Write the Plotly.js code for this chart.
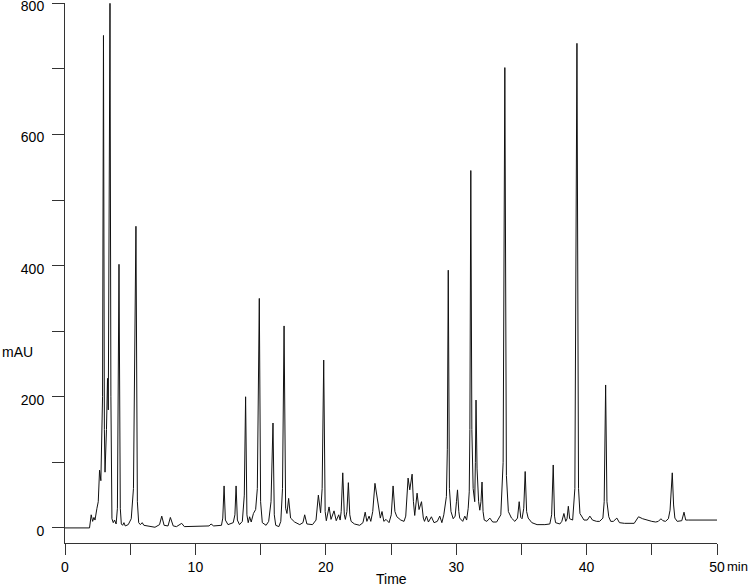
<!DOCTYPE html>
<html>
<head>
<meta charset="utf-8">
<script src="https://cdn.plot.ly/plotly-3.0.1.min.js"></script>
<style>html,body{margin:0;padding:0;background:#fff;}#chart{width:750px;height:586px;}</style>
</head>
<body>
<div id="chart"></div>
<script>
// Retention time (min) and absorbance (mAU)
const timeMin = [
  0, 1.88, 2.01, 2.12, 2.22, 2.30, 2.45, 2.55, 2.65, 2.75, 2.88, 2.95, 3.02, 3.07, 3.18, 3.26, 3.32, 3.40, 3.45, 3.52,
  3.60, 3.70, 3.80, 3.92, 4.02, 4.14, 4.24, 4.32, 4.42, 4.52, 4.62, 4.85, 5.08, 5.25, 5.44, 5.55, 5.65, 5.78, 5.92, 6.05,
  6.40, 6.90, 7.25, 7.42, 7.60, 7.90, 8.08, 8.30, 8.55, 8.95, 9.15, 10.5, 11.05, 11.2, 11.4, 12.0, 12.1, 12.2, 12.3, 12.5,
  12.9, 13.03, 13.12, 13.22, 13.38, 13.6, 13.75, 13.85, 13.95, 14.05, 14.16, 14.28, 14.45, 14.62, 14.75, 14.90, 15.00, 15.13, 15.42, 15.62,
  15.80, 15.95, 16.05, 16.16, 16.40, 16.55, 16.68, 16.80, 16.92, 17.02, 17.15, 17.30, 17.61, 18.0, 18.25, 18.38, 18.55, 18.98, 19.25, 19.43,
  19.60, 19.72, 19.84, 19.95, 20.04, 20.25, 20.40, 20.63, 20.80, 20.99, 21.10, 21.18, 21.30, 21.42, 21.50, 21.62, 21.73, 21.84, 21.94, 22.2,
  22.6, 22.85, 23.02, 23.15, 23.32, 23.45, 23.6, 23.77, 23.9, 24.06, 24.18, 24.31, 24.45, 24.62, 24.85, 25.02, 25.16, 25.30, 25.45, 25.75,
  26.0, 26.13, 26.31, 26.44, 26.62, 26.72, 26.82, 27.0, 27.15, 27.34, 27.48, 27.57, 27.72, 27.87, 28.1, 28.3, 28.55, 28.74, 28.9, 29.05,
  29.13, 29.25, 29.32, 29.39, 29.48, 29.6, 29.77, 29.92, 30.02, 30.1, 30.2, 30.27, 30.5, 30.66, 30.8, 30.92, 31.0, 31.05, 31.12, 31.2,
  31.3, 31.42, 31.47, 31.52, 31.6, 31.72, 31.81, 31.9, 31.98, 32.06, 32.15, 32.35, 32.58, 32.8, 33.1, 33.42, 33.6, 33.73, 33.85, 34.0,
  34.24, 34.5, 34.7, 34.83, 34.95, 35.05, 35.18, 35.29, 35.4, 35.52, 35.8, 36.2, 36.8, 37.18, 37.32, 37.44, 37.54, 37.62, 37.95, 38.1,
  38.26, 38.4, 38.5, 38.6, 38.7, 38.93, 39.1, 39.26, 39.38, 39.49, 39.8, 40.05, 40.25, 40.45, 40.77, 41.0, 41.25, 41.35, 41.46, 41.56,
  41.7, 41.85, 42.05, 42.32, 42.52, 42.9, 43.65, 43.85, 43.98, 44.3, 44.6, 45.0, 45.3, 45.5, 45.7, 45.85, 46.05, 46.27, 46.4, 46.57,
  46.67, 46.77, 46.95, 47.3, 47.47, 47.6, 47.8, 50.0
];
const absorbance = [
  0, 0, 20, 10, 16, 12, 30, 40, 88, 72, 200, 751, 150, 85, 150, 228, 180, 500, 800, 200,
  14, 8, 12, 6, 30, 402, 30, 6, 4, 8, 3, 5, 14, 60, 460, 40, 8, 5, 8, 4,
  3, 1, 5, 18, 4, 3, 16, 3, 2, 7, 2, 2, 3, 6, 3, 4, 15, 64, 12, 5,
  8, 20, 64, 12, 5, 10, 50, 200, 20, 8, 17, 9, 22, 28, 60, 350, 40, 8, 4, 10,
  40, 160, 20, 4, 2, 10, 60, 308, 30, 22, 45, 15, 9, 5, 8, 20, 6, 5, 12, 50,
  23, 60, 256, 25, 11, 32, 13, 26, 11, 20, 12, 25, 84, 20, 13, 25, 69, 20, 10, 6,
  4, 8, 24, 10, 18, 10, 25, 68, 50, 25, 15, 25, 10, 13, 8, 20, 64, 25, 17, 12,
  10, 18, 76, 58, 82, 40, 19, 53, 28, 40, 15, 10, 18, 9, 17, 8, 10, 18, 8, 20,
  32, 48, 120, 393, 60, 25, 14, 18, 40, 58, 25, 15, 10, 18, 12, 30, 55, 150, 545, 150,
  60, 40, 100, 195, 90, 40, 27, 40, 70, 25, 12, 10, 15, 9, 9, 20, 100, 702, 80, 25,
  15, 10, 15, 40, 16, 14, 30, 86, 25, 15, 8, 5, 5, 6, 20, 96, 18, 8, 6, 10,
  22, 10, 14, 33, 14, 12, 60, 739, 60, 22, 12, 12, 18, 12, 10, 10, 15, 40, 218, 40,
  17, 10, 10, 15, 8, 7, 7, 13, 17, 14, 12, 10, 9, 10, 14, 11, 10, 14, 27, 84,
  35, 15, 10, 11, 24, 12, 12, 12
];
const xTickVals = [0, 5, 10, 15, 20, 25, 30, 35, 40, 45, 50];
const xTickText = ['0', '', '10', '', '20', '', '30', '', '40', '', '50'];
const yTickVals = [0, 100, 200, 300, 400, 500, 600, 700, 800];
const yTickText = ['0', '', '200', '', '400', '', '600', '', '800'];

const fontFam = 'Liberation Sans, Arial, Helvetica, sans-serif';

const trace = {
  x: timeMin,
  y: absorbance,
  type: 'scatter',
  mode: 'lines',
  line: {color: '#111', width: 1},
  hoverinfo: 'skip'
};

const layout = {
  width: 750,
  height: 586,
  margin: {l: 65, r: 33, t: 3, b: 43, pad: 0},
  paper_bgcolor: '#fff',
  plot_bgcolor: '#fff',
  showlegend: false,
  font: {family: fontFam, size: 14, color: '#000'},
  xaxis: {
    range: [0, 50],
    tickmode: 'array',
    tickvals: xTickVals,
    ticktext: xTickText,
    ticks: 'outside',
    ticklen: 11,
    tickwidth: 1,
    tickcolor: '#333',
    showline: true,
    linecolor: '#333',
    linewidth: 1,
    showgrid: false,
    zeroline: false,
    tickfont: {family: fontFam, size: 14, color: '#000'}
  },
  yaxis: {
    range: [-23, 800.5],
    tickmode: 'array',
    tickvals: yTickVals,
    ticktext: yTickText,
    ticks: 'outside',
    ticklen: 12,
    tickwidth: 1,
    tickcolor: '#333',
    showline: true,
    linecolor: '#333',
    linewidth: 1,
    showgrid: false,
    zeroline: false,
    ticklabelstandoff: 5,
    ticklabelshift: 3,
    ticklabeloverflow: 'allow',
    tickfont: {family: fontFam, size: 14, color: '#000'}
  },
  annotations: [
    {text: 'mAU', xref: 'paper', yref: 'paper', x: -0.0997, y: 0.354, xanchor: 'left', yanchor: 'middle', showarrow: false, font: {family: fontFam, size: 14, color: '#000'}},
    {text: 'Time', xref: 'paper', yref: 'paper', x: 0.5, y: -0.0667, xanchor: 'center', yanchor: 'middle', showarrow: false, font: {family: fontFam, size: 14, color: '#000'}},
    {text: 'min', xref: 'paper', yref: 'paper', x: 1.0505, y: -0.0426, xanchor: 'right', yanchor: 'middle', showarrow: false, font: {family: fontFam, size: 13, color: '#000'}}
  ]
};

Plotly.newPlot('chart', [trace], layout, {displayModeBar: false, staticPlot: true});
</script>
</body>
</html>
